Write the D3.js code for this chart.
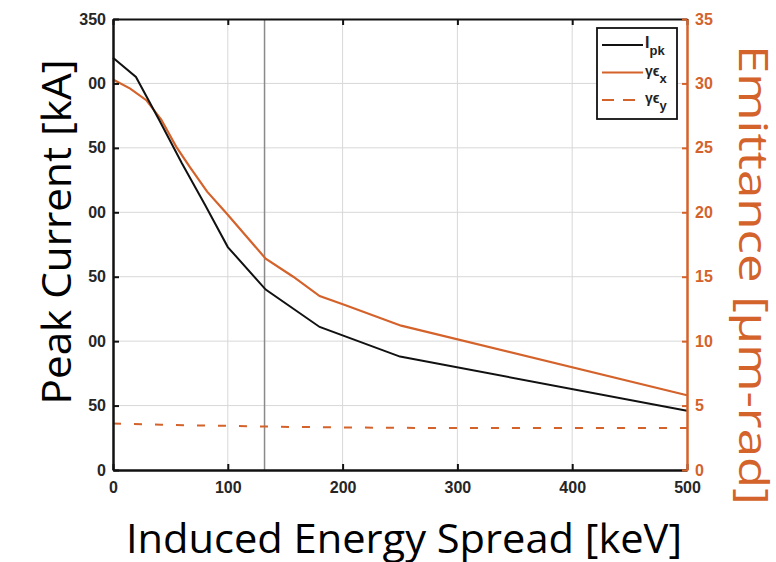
<!DOCTYPE html>
<html>
<head>
<meta charset="utf-8">
<script src="https://cdn.jsdelivr.net/npm/d3@7"></script>
<style>
  html, body { margin: 0; padding: 0; background: #fff; }
  svg { display: block; }
  .tick-label { font-family: "Liberation Sans", Arial, sans-serif; font-weight: bold; font-size: 16px; }
  .title { font-family: "Open Sans", "Noto Sans", sans-serif; }
</style>
</head>
<body>
<div id="chart"></div>
<script>
// data
const energy = [0, 20, 40, 60, 80, 100, 133, 180, 250, 500];          // keV
const peakCurrent = [320, 305, 272, 238, 206, 173, 140, 111, 88, 46];  // kA
const emitEnergy = [0, 15, 29, 42, 55, 67, 82, 99, 133, 157, 180, 202, 251, 500];
const emitX = [30.3, 29.6, 28.7, 27.2, 25.1, 23.5, 21.6, 19.9, 16.4, 15.0, 13.5, 12.8, 11.2, 5.8];
const emitY = [3.6, 3.57, 3.54, 3.51, 3.49, 3.47, 3.45, 3.43, 3.37, 3.34, 3.32, 3.3, 3.27, 3.25];
const xTicks = [0, 100, 200, 300, 400, 500];
const leftTicks = [0, 50, 100, 150, 200, 250, 300, 350];
const rightTicks = [0, 5, 10, 15, 20, 25, 30, 35];
const markerEnergy = 132;

const W = 776, H = 562;
const orange = "#d4622b";
const m = { left: 113, right: 687, top: 19, bottom: 470 };

const svg = d3.select("#chart").append("svg")
  .attr("width", W).attr("height", H);

const x = d3.scaleLinear().domain([0, 500]).range([m.left, m.right]);
const yL = d3.scaleLinear().domain([0, 350]).range([m.bottom, m.top]);
const yR = d3.scaleLinear().domain([0, 35]).range([m.bottom, m.top]);

// grid
const grid = svg.append("g").attr("stroke", "#d8d8d8").attr("stroke-width", 1);
grid.selectAll("line.v").data(xTicks.slice(1, -1)).join("line")
  .attr("x1", d => x(d)).attr("x2", d => x(d))
  .attr("y1", m.top).attr("y2", m.bottom);
grid.selectAll("line.h").data(leftTicks.slice(1, -1)).join("line")
  .attr("x1", m.left).attr("x2", m.right)
  .attr("y1", d => yL(d)).attr("y2", d => yL(d));

// marker line
svg.append("line")
  .attr("x1", x(markerEnergy)).attr("x2", x(markerEnergy))
  .attr("y1", m.top).attr("y2", m.bottom)
  .attr("stroke", "#8a8a8a").attr("stroke-width", 1.5);

// series
const ipkRows = energy.map((e, i) => ({ e, v: peakCurrent[i] }));
const exRows = emitEnergy.map((e, i) => ({ e, v: emitX[i] }));
const eyRows = emitEnergy.map((e, i) => ({ e, v: emitY[i] }));

svg.append("path").datum(eyRows)
  .attr("fill", "none").attr("stroke", orange).attr("stroke-width", 2)
  .attr("stroke-dasharray", "8,13")
  .attr("d", d3.line().x(d => x(d.e)).y(d => yR(d.v)));

svg.append("path").datum(exRows)
  .attr("fill", "none").attr("stroke", orange).attr("stroke-width", 2.2)
  .attr("d", d3.line().x(d => x(d.e)).y(d => yR(d.v)));

svg.append("path").datum(ipkRows)
  .attr("fill", "none").attr("stroke", "#111").attr("stroke-width", 2)
  .attr("d", d3.line().x(d => x(d.e)).y(d => yL(d.v)));

// axes
const bottomAxis = svg.append("g")
  .attr("transform", `translate(0,${m.bottom})`)
  .call(d3.axisBottom(x).tickValues(xTicks).tickSizeInner(-6).tickSizeOuter(0).tickPadding(12));
bottomAxis.select(".domain").attr("stroke", "#111").attr("stroke-width", 2.5);
bottomAxis.selectAll(".tick line").attr("stroke", "#111").attr("stroke-width", 2);

const topAxis = svg.append("g")
  .attr("transform", `translate(0,${m.top})`)
  .call(d3.axisTop(x).tickValues(xTicks).tickSizeInner(-6).tickSizeOuter(0).tickFormat(""));
topAxis.select(".domain").attr("stroke", "#111").attr("stroke-width", 1.8);
topAxis.selectAll(".tick line").attr("stroke", "#111").attr("stroke-width", 2);

const leftAxis = svg.append("g")
  .attr("transform", `translate(${m.left},0)`)
  .call(d3.axisLeft(yL).tickValues(leftTicks).tickSizeInner(-6).tickSizeOuter(0).tickPadding(7));
leftAxis.select(".domain").attr("stroke", "#111").attr("stroke-width", 2.5);
leftAxis.selectAll(".tick line").attr("stroke", "#111").attr("stroke-width", 2);

const rightAxis = svg.append("g")
  .attr("transform", `translate(${m.right},0)`)
  .call(d3.axisRight(yR).tickValues(rightTicks).tickSizeInner(-5).tickSizeOuter(0).tickPadding(8));
rightAxis.select(".domain").attr("stroke", orange).attr("stroke-width", 2.5);
rightAxis.selectAll(".tick line").attr("stroke", orange).attr("stroke-width", 2);

svg.selectAll(".tick text").attr("class", "tick-label").attr("font-family", null).attr("font-size", null);
leftAxis.selectAll(".tick text").attr("fill", "#262626");
bottomAxis.selectAll(".tick text").attr("fill", "#262626");
rightAxis.selectAll(".tick text").attr("fill", orange);

// legend
const lg = svg.append("g").attr("transform", "translate(597,28)");
lg.append("rect").attr("width", 80).attr("height", 91)
  .attr("fill", "#fff").attr("stroke", "#111").attr("stroke-width", 1.8);
const legendItems = [
  { name: "I", sub: "pk", color: "#111", dash: null },
  { name: "γϵ", sub: "x", color: orange, dash: null },
  { name: "γϵ", sub: "y", color: orange, dash: "12,9" }
];
legendItems.forEach((it, i) => {
  const yy = 17 + i * 27.5;
  lg.append("line").attr("x1", 5).attr("x2", 46).attr("y1", yy).attr("y2", yy)
    .attr("stroke", it.color).attr("stroke-width", 2)
    .attr("stroke-dasharray", it.dash);
  const t = lg.append("text").attr("class", "tick-label").attr("x", 48).attr("y", yy + 3)
    .attr("fill", "#222");
  t.append("tspan").text(it.name).attr("font-size", it.name === "I" ? 16 : 14);
  t.append("tspan").text(it.sub).attr("dy", 7).attr("font-size", 13);
});

// axis titles (the left one has a white box that hides the first digits, as in the original)
const leftTitle = svg.append("text").attr("class", "title")
  .attr("transform", "translate(71,232) rotate(-90)")
  .attr("text-anchor", "middle")
  .attr("font-size", 41).attr("fill", "#000")
  .attr("textLength", 345).attr("lengthAdjust", "spacingAndGlyphs")
  .text("Peak Current [kA]");
const bb = leftTitle.node().getBBox();
svg.insert("rect", "text.title")
  .attr("x", 20).attr("y", 232 - bb.width / 2 - 4)
  .attr("width", 88 - 20).attr("height", bb.width + 8)
  .attr("fill", "#fff");

svg.append("text").attr("class", "title")
  .attr("transform", "translate(739,275) rotate(90)")
  .attr("text-anchor", "middle")
  .attr("font-size", 40).attr("fill", orange)
  .attr("textLength", 460).attr("lengthAdjust", "spacingAndGlyphs")
  .text("Emittance [µm-rad]");

svg.append("text").attr("class", "title")
  .attr("x", 404).attr("y", 553)
  .attr("text-anchor", "middle")
  .attr("font-size", 40).attr("fill", "#000")
  .attr("textLength", 556).attr("lengthAdjust", "spacingAndGlyphs")
  .text("Induced Energy Spread [keV]");
</script>
</body>
</html>
